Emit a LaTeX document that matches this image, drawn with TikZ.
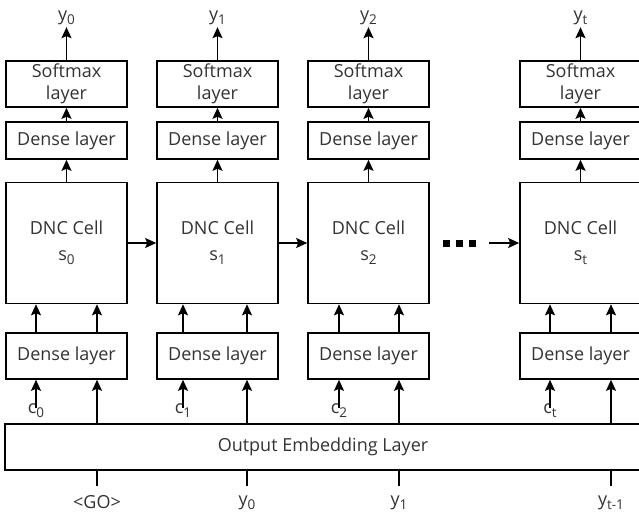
\documentclass[tikz,border=0pt]{standalone}
\usepackage{fontspec}
\setmainfont{Open Sans}
\usetikzlibrary{arrows.meta}
\newcommand\sbx[1]{\raisebox{-0.4ex}{\fontsize{13.5}{13.5}\selectfont #1}}
\begin{document}
\begin{tikzpicture}[x=1pt,y=-1pt,
  box/.style={draw=black, line width=1.6pt, inner sep=0pt, minimum width=121pt, align=center,
    text=black!80, font=\fontsize{18}{22}\selectfont},
  lbl/.style={inner sep=0pt, text=black!80, font=\fontsize{18}{21}\selectfont},
  arr/.style={line width=1.6pt, -{Stealth[length=11pt,width=10pt,inset=2pt]}},
  ln/.style={line width=1.6pt}]
\useasboundingbox (0,0) rectangle (639,516);
% columns
\foreach \i/\c/\sub/\s/\sa/\sb in {0/66.5/0/0/36/97, 1/217.5/1/1/183/247, 2/368.5/2/2/339/399, 3/580.5/t/t/550/611}{
  \node[box, minimum height=46pt] (soft\i) at (\c,84) {Softmax\\[0pt]layer};
  \node[box, minimum height=37pt] (dt\i) at (\c,140.5) {Dense layer};
  \node[box, minimum height=121pt] (dnc\i) at (\c,243) {DNC Cell\\[4pt]s\sbx{\s}};
  \node[box, minimum height=46pt] (db\i) at (\c,356) {Dense layer};
  \node[lbl] (y\i) at (\c,18) {y\sbx{\sub}};
  \coordinate (l\i) at (\sa,0);
  \coordinate (r\i) at (\sb,0);
  \node[lbl] (c\i) at (\sa,411) {c\sbx{\s}};
  \draw[arr] (soft\i.north) -- ([yshift=-2pt]y\i.south);
  \draw[arr] (dt\i.north) -- (soft\i.south);
  \draw[arr] (dnc\i.north) -- (dt\i.south);
  \draw[arr] (db\i.north -| l\i) -- (dnc\i.south -| l\i);
  \draw[arr] (db\i.north -| r\i) -- (dnc\i.south -| r\i);
  \draw[arr] ([yshift=-4pt]c\i.north) -- (db\i.south -| l\i);
}
\node[box, minimum width=636pt, minimum height=46pt] (emb) at (323,447) {Output Embedding Layer};
\foreach \i in {0,1,2,3}{
  \draw[arr] (emb.north -| r\i) -- (db\i.south -| r\i);
}
% bottom inputs
\node[lbl] (in0) at (97,502) {<GO>};
\node[lbl] (in1) at (247,503) {y\sbx{0}};
\node[lbl] (in2) at (399,503) {y\sbx{1}};
\node[lbl] (in3) at (611,503) {y\sbx{t-1}};
\foreach \i in {0,1,2,3}{
  \draw[ln] (emb.south -| in\i) -- ++(0,15);
}
% recurrent connections
\draw[arr] (dnc0.east) -- (dnc1.west);
\draw[arr] (dnc1.east) -- (dnc2.west);
\node[inner sep=0pt, minimum width=34pt, minimum height=7pt] (dots) at (459,243) {};
\foreach \dx in {446,459,472}{
  \fill (\dx-3.5,239.5) rectangle (\dx+3.5,246.5);
}
\coordinate (ds) at ([xshift=-30pt]dnc3.west);
\draw[arr] (ds) -- (dnc3.west);
\end{tikzpicture}
\end{document}
